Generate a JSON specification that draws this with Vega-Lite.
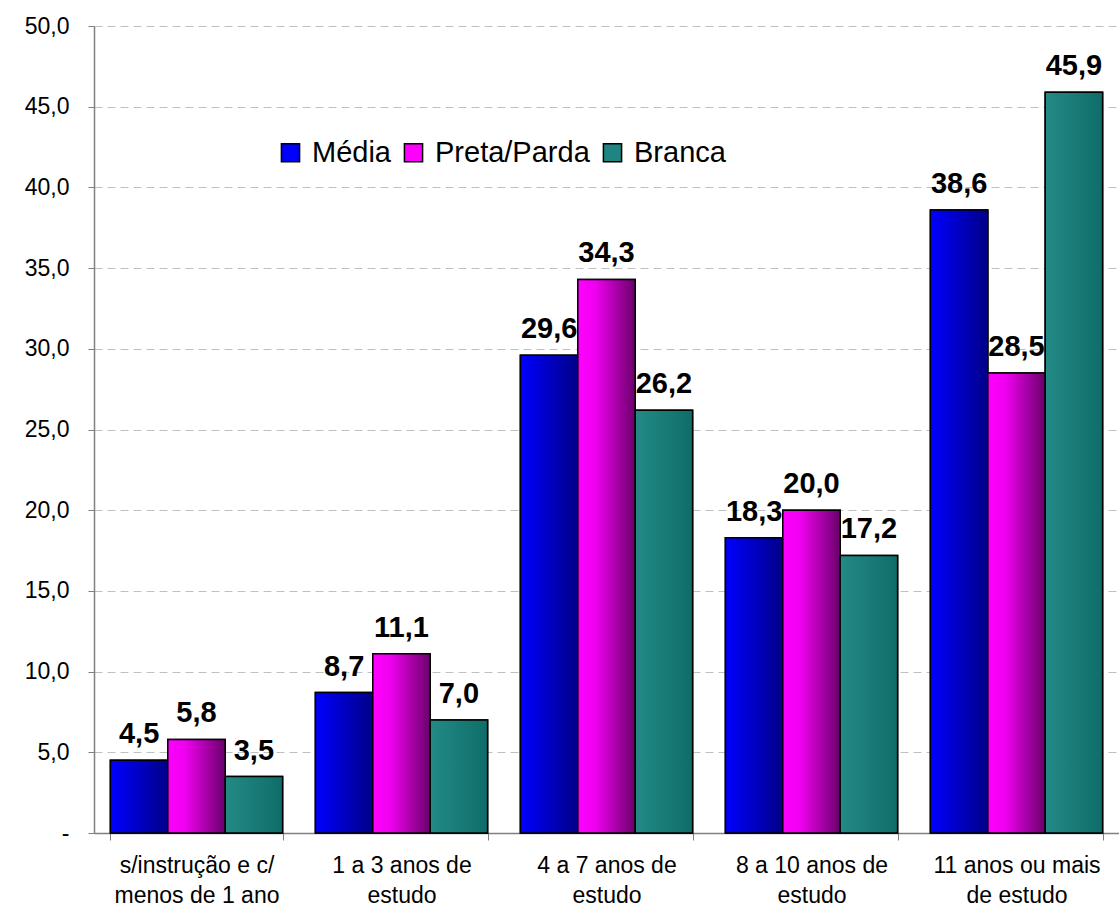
{
  "$schema": "https://vega.github.io/schema/vega-lite/v6.json",
  "width": 1025,
  "height": 807,
  "autosize": {"type": "none"},
  "padding": {"left": 94, "top": 26, "right": 0, "bottom": 82},
  "background": "white",
  "config": {
    "font": "Liberation Sans",
    "view": {"stroke": null},
    "locale": {"number": {"decimal": ",", "thousands": ".", "grouping": [3], "currency": ["R$", ""]}}
  },
  "data": {
    "values": [
      {"cat": "s/instrução e c/ menos de 1 ano", "grupo": "Média", "v": 4.5},
      {"cat": "s/instrução e c/ menos de 1 ano", "grupo": "Preta/Parda", "v": 5.8},
      {"cat": "s/instrução e c/ menos de 1 ano", "grupo": "Branca", "v": 3.5},
      {"cat": "1 a 3 anos de estudo", "grupo": "Média", "v": 8.7},
      {"cat": "1 a 3 anos de estudo", "grupo": "Preta/Parda", "v": 11.1},
      {"cat": "1 a 3 anos de estudo", "grupo": "Branca", "v": 7.0},
      {"cat": "4 a 7 anos de estudo", "grupo": "Média", "v": 29.6},
      {"cat": "4 a 7 anos de estudo", "grupo": "Preta/Parda", "v": 34.3},
      {"cat": "4 a 7 anos de estudo", "grupo": "Branca", "v": 26.2},
      {"cat": "8 a 10 anos de estudo", "grupo": "Média", "v": 18.3},
      {"cat": "8 a 10 anos de estudo", "grupo": "Preta/Parda", "v": 20.0},
      {"cat": "8 a 10 anos de estudo", "grupo": "Branca", "v": 17.2},
      {"cat": "11 anos ou mais de estudo", "grupo": "Média", "v": 38.6},
      {"cat": "11 anos ou mais de estudo", "grupo": "Preta/Parda", "v": 28.5},
      {"cat": "11 anos ou mais de estudo", "grupo": "Branca", "v": 45.9}
    ]
  },
  "encoding": {
    "x": {
      "field": "cat", "type": "nominal",
      "sort": ["s/instrução e c/ menos de 1 ano", "1 a 3 anos de estudo", "4 a 7 anos de estudo", "8 a 10 anos de estudo", "11 anos ou mais de estudo"],
      "scale": {"paddingInner": 0.16, "paddingOuter": 0.08},
      "axis": {
        "title": null, "labelAngle": 0, "labelFontSize": 23, "labelColor": "black",
        "domainColor": "#808080", "domainWidth": 1.5, "tickColor": "#808080", "tickSize": 7, "tickBand": "extent",
        "labelPadding": 14, "labelLineHeight": 30, "labelBaseline": "top",
        "labelExpr": "datum.value == 's/instrução e c/ menos de 1 ano' ? ['s/instrução e c/', 'menos de 1 ano'] : datum.value == '1 a 3 anos de estudo' ? ['1 a 3 anos de', 'estudo'] : datum.value == '4 a 7 anos de estudo' ? ['4 a 7 anos de', 'estudo'] : datum.value == '8 a 10 anos de estudo' ? ['8 a 10 anos de', 'estudo'] : datum.value == '11 anos ou mais de estudo' ? ['11 anos ou mais', 'de estudo'] : ''"
      }
    },
    "xOffset": {"field": "grupo", "type": "nominal", "sort": ["Média", "Preta/Parda", "Branca"], "scale": {"domain": ["Média", "Preta/Parda", "Branca"]}},
    "y": {
      "field": "v", "type": "quantitative",
      "scale": {"domain": [0, 50], "nice": false},
      "axis": {
        "title": null, "values": [0, 5, 10, 15, 20, 25, 30, 35, 40, 45, 50],
        "labelFontSize": 23, "labelColor": "black", "labelPadding": 19,
        "labelExpr": "datum.value == 0 ? '-' : format(datum.value, '.1f')",
        "domainColor": "#808080", "domainWidth": 1.5, "tickColor": "#808080", "tickSize": 6,
        "grid": true, "gridColor": "#c0c0c0", "gridDash": [8, 5], "gridWidth": 1
      }
    }
  },
  "layer": [
    {
      "mark": {"type": "bar", "stroke": "black", "strokeWidth": 1.5},
      "encoding": {
        "fill": {
          "field": "grupo", "type": "nominal", "sort": ["Média", "Preta/Parda", "Branca"],
          "scale": {"domain": ["Média", "Preta/Parda", "Branca"], "range": ["#0000ff", "#ff00ff", "#1f8580"]},
          "legend": {
            "title": null, "orient": "none", "direction": "horizontal", "legendX": 182, "legendY": 112,
            "symbolType": "square", "symbolSize": 330, "symbolStrokeColor": "black", "symbolStrokeWidth": 1.5,
            "symbolOpacity": 1, "labelFontSize": 29, "labelColor": "black", "labelOffset": 7, "columnPadding": 8,
            "labelLimit": 300
          }
        }
      }
    },
    {
      "transform": [{"filter": "datum.grupo == 'Média'"}],
      "mark": {"type": "bar", "stroke": "black", "strokeWidth": 1.5,
        "fill": {"gradient": "linear", "x1": 0, "y1": 0, "x2": 1, "y2": 0, "stops": [{"offset": 0, "color": "#0000ff"}, {"offset": 1, "color": "#000088"}]}}
    },
    {
      "transform": [{"filter": "datum.grupo == 'Preta/Parda'"}],
      "mark": {"type": "bar", "stroke": "black", "strokeWidth": 1.5,
        "fill": {"gradient": "linear", "x1": 0, "y1": 0, "x2": 1, "y2": 0, "stops": [{"offset": 0, "color": "#ff00ff"}, {"offset": 0.3, "color": "#f000f0"}, {"offset": 1, "color": "#6a006a"}]}}
    },
    {
      "transform": [{"filter": "datum.grupo == 'Branca'"}],
      "mark": {"type": "bar", "stroke": "black", "strokeWidth": 1.5,
        "fill": {"gradient": "linear", "x1": 0, "y1": 0, "x2": 1, "y2": 0, "stops": [{"offset": 0, "color": "#238a85"}, {"offset": 1, "color": "#0f6d69"}]}}
    },
    {
      "mark": {"type": "text", "fontSize": 29, "fontWeight": "bold", "color": "black", "baseline": "alphabetic", "dy": -17},
      "encoding": {"text": {"field": "v", "type": "quantitative", "format": ".1f"}}
    }
  ]
}
